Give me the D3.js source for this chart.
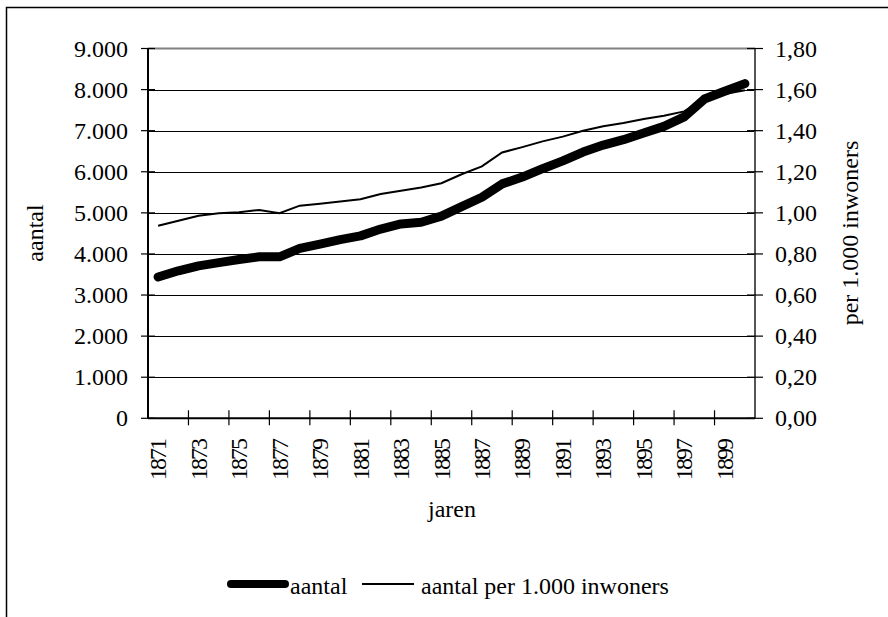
<!DOCTYPE html>
<html>
<head>
<meta charset="utf-8">
<script src="https://cdn.jsdelivr.net/npm/d3@7"></script>
<style>
  body { margin: 0; background: #fff; }
  svg { display: block; font-family: "Liberation Serif", "Times New Roman", serif; }
</style>
</head>
<body>
<div id="chart"></div>
<script>
// jaren 1871 - 1900
const years = d3.range(1871, 1901);
const aantal = [3440, 3590, 3710, 3790, 3865, 3930, 3930, 4135, 4240, 4350,
                4440, 4605, 4730, 4770, 4920, 5150, 5380, 5705, 5870, 6075,
                6265, 6480, 6650, 6780, 6945, 7105, 7335, 7770, 7960, 8145];
const perDuizend = [0.937, 0.962, 0.986, 0.998, 1.003, 1.014, 0.998, 1.035, 1.044, 1.055,
                    1.066, 1.092, 1.108, 1.123, 1.144, 1.188, 1.226, 1.294, 1.320, 1.348,
                    1.371, 1.400, 1.422, 1.437, 1.457, 1.473, 1.494, 1.555, 1.579, 1.597];
const leftTicks = d3.range(0, 9001, 1000);
const rightTicks = d3.range(0, 1.81, 0.2);
const seriesNames = ['aantal', 'aantal per 1.000 inwoners'];

const width = 888;
const height = 617;
const plot = { left: 148, right: 755, top: 48.5, bottom: 418.3 };

const nl = d3.formatLocale({ decimal: ',', thousands: '.', grouping: [3], currency: ['€', ''] });
const fmtLeft = nl.format(',.0f');
const fmtRight = nl.format('.2f');

const svg = d3.select('#chart')
  .append('svg')
  .attr('width', width)
  .attr('height', height);

// outer frame (only left and top visible)
svg.append('rect')
  .attr('x', 6.5).attr('y', 7.5)
  .attr('width', 1000).attr('height', 1000)
  .attr('fill', 'none')
  .attr('stroke', '#000')
  .attr('stroke-width', 1.5);

const x = d3.scaleBand()
  .domain(years)
  .range([plot.left, plot.right])
  .padding(0);

const yLeft = d3.scaleLinear().domain([0, 9000]).range([plot.bottom, plot.top]);
const yRight = d3.scaleLinear().domain([0, 1.8]).range([plot.bottom, plot.top]);

// gridlines
svg.append('g')
  .attr('class', 'gridlines')
  .selectAll('line')
  .data(leftTicks.slice(1, -1))
  .join('line')
  .attr('x1', plot.left).attr('x2', plot.right)
  .attr('y1', d => Math.round(yLeft(d)) + 0.5)
  .attr('y2', d => Math.round(yLeft(d)) + 0.5)
  .attr('stroke', '#000')
  .attr('stroke-width', 1);

// plot border top + right
svg.append('line')
  .attr('x1', plot.left).attr('x2', plot.right)
  .attr('y1', plot.top).attr('y2', plot.top)
  .attr('stroke', '#808080').attr('stroke-width', 2);
svg.append('line')
  .attr('x1', plot.right).attr('x2', plot.right)
  .attr('y1', plot.top).attr('y2', plot.bottom)
  .attr('stroke', '#555').attr('stroke-width', 2);

// left axis
const leftAxis = svg.append('g').attr('class', 'y-axis-left');
leftAxis.append('line')
  .attr('x1', plot.left).attr('x2', plot.left)
  .attr('y1', plot.top).attr('y2', plot.bottom)
  .attr('stroke', '#000').attr('stroke-width', 2);
leftAxis.selectAll('.tick')
  .data(leftTicks)
  .join('line')
  .attr('x1', plot.left - 7).attr('x2', plot.left + 7)
  .attr('y1', d => yLeft(d)).attr('y2', d => yLeft(d))
  .attr('stroke', '#000').attr('stroke-width', 1.2);
leftAxis.selectAll('text')
  .data(leftTicks)
  .join('text')
  .attr('x', 128)
  .attr('y', d => yLeft(d))
  .attr('dy', '0.34em')
  .attr('text-anchor', 'end')
  .attr('font-size', 24)
  .text(d => fmtLeft(d));

// right axis
const rightAxis = svg.append('g').attr('class', 'y-axis-right');
rightAxis.selectAll('line')
  .data(rightTicks)
  .join('line')
  .attr('x1', plot.right - 8).attr('x2', plot.right + 8)
  .attr('y1', d => yRight(d)).attr('y2', d => yRight(d))
  .attr('stroke', '#000').attr('stroke-width', 1.2);
rightAxis.selectAll('text')
  .data(rightTicks)
  .join('text')
  .attr('x', 775)
  .attr('y', d => yRight(d))
  .attr('dy', '0.34em')
  .attr('font-size', 24)
  .text(d => fmtRight(d));

// bottom axis
const xAxis = svg.append('g').attr('class', 'x-axis');
xAxis.append('line')
  .attr('x1', plot.left).attr('x2', plot.right)
  .attr('y1', plot.bottom).attr('y2', plot.bottom)
  .attr('stroke', '#000').attr('stroke-width', 2);
xAxis.selectAll('.tick')
  .data(years.filter((d, i) => i % 2 === 0 && i > 0))
  .join('line')
  .attr('x1', d => x(d)).attr('x2', d => x(d))
  .attr('y1', plot.bottom - 8).attr('y2', plot.bottom + 7)
  .attr('stroke', '#000').attr('stroke-width', 1.2);
xAxis.selectAll('text')
  .data(years.filter((d, i) => i % 2 === 0))
  .join('text')
  .attr('transform', d => `translate(${x(d) + x.bandwidth() / 2}, 438) rotate(-90)`)
  .attr('dy', '0.34em')
  .attr('text-anchor', 'end')
  .attr('font-size', 24)
  .attr('textLength', 42)
  .attr('lengthAdjust', 'spacing')
  .text(d => d);

// axis titles
svg.append('text')
  .attr('x', 452).attr('y', 517)
  .attr('text-anchor', 'middle')
  .attr('font-size', 24)
  .text('jaren');
svg.append('text')
  .attr('transform', `translate(36, 233) rotate(-90)`)
  .attr('dy', '0.3em')
  .attr('text-anchor', 'middle')
  .attr('font-size', 24)
  .text('aantal');
svg.append('text')
  .attr('transform', `translate(851, 233) rotate(-90)`)
  .attr('dy', '0.3em')
  .attr('text-anchor', 'middle')
  .attr('font-size', 24)
  .text('per 1.000 inwoners');

// lines
const cx = d => x(d) + x.bandwidth() / 2;

const lineLeft = d3.line()
  .x((d, i) => cx(years[i]))
  .y(d => yLeft(d));
const lineRight = d3.line()
  .x((d, i) => cx(years[i]))
  .y(d => yRight(d));

svg.append('path')
  .datum(perDuizend)
  .attr('d', lineRight)
  .attr('fill', 'none')
  .attr('stroke', '#000')
  .attr('stroke-width', 2);

svg.append('path')
  .datum(aantal)
  .attr('d', lineLeft)
  .attr('fill', 'none')
  .attr('stroke', '#000')
  .attr('stroke-width', 9)
  .attr('stroke-linejoin', 'round')
  .attr('stroke-linecap', 'round');

// legend
const legend = svg.append('g').attr('class', 'legend');
legend.append('line')
  .attr('x1', 231).attr('x2', 285)
  .attr('y1', 584).attr('y2', 584)
  .attr('stroke', '#000').attr('stroke-width', 8)
  .attr('stroke-linecap', 'round');
legend.append('text')
  .attr('x', 290).attr('y', 594)
  .attr('font-size', 24)
  .text(seriesNames[0]);
legend.append('line')
  .attr('x1', 362).attr('x2', 414)
  .attr('y1', 584).attr('y2', 584)
  .attr('stroke', '#000').attr('stroke-width', 2);
legend.append('text')
  .attr('x', 421).attr('y', 594)
  .attr('font-size', 24)
  .text(seriesNames[1]);
</script>
</body>
</html>
